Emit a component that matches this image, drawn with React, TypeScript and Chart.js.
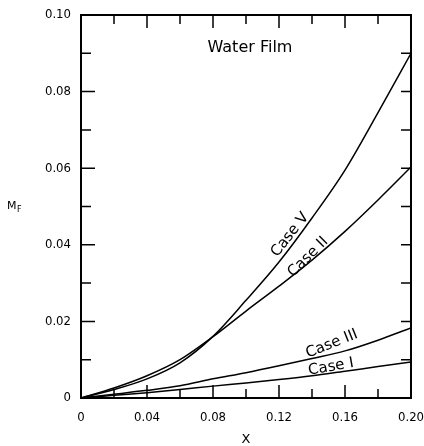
import React, { useEffect, useRef } from "react";
import { Chart, registerables } from "chart.js";

Chart.register(...registerables);

const xValues = [0, 0.02, 0.04, 0.06, 0.08, 0.1, 0.12, 0.14, 0.16, 0.18, 0.2];
const caseI = [0, 0.0007, 0.0014, 0.0022, 0.0031, 0.0039, 0.0048, 0.0058, 0.007, 0.0082, 0.0094];
const caseII = [0, 0.0026, 0.0058, 0.01, 0.016, 0.0227, 0.0292, 0.036, 0.0435, 0.0517, 0.0603];
const caseIII = [0, 0.001, 0.002, 0.0032, 0.005, 0.0066, 0.0084, 0.0103, 0.0123, 0.0151, 0.0183];
const caseV = [0, 0.0022, 0.005, 0.0092, 0.0161, 0.0255, 0.0355, 0.047, 0.0595, 0.0745, 0.09];

const seriesNames = ["Case I", "Case II", "Case III", "Case V"];
const seriesValues = [caseI, caseII, caseIII, caseV];

const xTickLabels = ["0", "0.04", "0.08", "0.12", "0.16", "0.20"];
const yTickLabels = ["0", "0.02", "0.04", "0.06", "0.08", "0.10"];

// curve label annotations: [text, x, y, angleDeg]
const curveLabels: [string, number, number, number][] = [
  ["Case V", 0.1267, 0.0426, -52],
  ["Case II", 0.1376, 0.0368, -45],
  ["Case III", 0.152, 0.0141, -22],
  ["Case I", 0.1515, 0.0081, -10],
];
const chartTitle = "Water Film";
const titlePos = [0.1024, 0.0914];

const tickFont = "'DejaVu Sans Condensed', 'Liberation Sans Narrow', 'DejaVu Sans', sans-serif";

const fmt = (v: number) => {
  const r = Math.round(v * 100) / 100;
  return r;
};

const overlay = {
  id: "overlay",
  afterDraw(chart: any) {
    const { ctx, chartArea: a, scales } = chart;
    const xs = scales.x;
    const ys = scales.y;
    ctx.save();
    ctx.strokeStyle = "#000";
    ctx.lineWidth = 2;
    ctx.strokeRect(a.left, a.top, a.right - a.left, a.bottom - a.top);
    ctx.lineWidth = 1.5;
    // x ticks (top & bottom)
    for (let i = 1; i < 10; i++) {
      const v = i * 0.02;
      const px = xs.getPixelForValue(v);
      const major = i % 2 === 0;
      const len = major ? 13 : 9;
      ctx.beginPath();
      ctx.moveTo(px, a.bottom);
      ctx.lineTo(px, a.bottom - len);
      ctx.moveTo(px, a.top);
      ctx.lineTo(px, a.top + len);
      ctx.stroke();
    }
    // y ticks (left & right)
    for (let i = 1; i < 10; i++) {
      const v = i * 0.01;
      const py = ys.getPixelForValue(v);
      const major = i % 2 === 0;
      const len = major ? 14 : 10;
      ctx.beginPath();
      ctx.moveTo(a.left, py);
      ctx.lineTo(a.left + len, py);
      ctx.moveTo(a.right, py);
      ctx.lineTo(a.right - 10, py);
      ctx.stroke();
    }
    // title
    ctx.fillStyle = "#000";
    ctx.textAlign = "center";
    ctx.textBaseline = "middle";
    ctx.font = "16px 'DejaVu Sans', sans-serif";
    ctx.fillText(chartTitle, xs.getPixelForValue(titlePos[0]), ys.getPixelForValue(titlePos[1]));
    // curve labels
    ctx.font = "15px 'DejaVu Sans', sans-serif";
    for (const [t, x, y, ang] of curveLabels) {
      ctx.save();
      ctx.translate(xs.getPixelForValue(x), ys.getPixelForValue(y));
      ctx.rotate((ang * Math.PI) / 180);
      ctx.fillText(t, 0, 0);
      ctx.restore();
    }
    // axis titles
    ctx.font = "13px 'DejaVu Sans', sans-serif";
    ctx.fillText("X", (a.left + a.right) / 2 + 0, 440);
    ctx.font = "11px 'DejaVu Sans', sans-serif";
    ctx.textAlign = "left";
    ctx.fillText("M", 7, (a.top + a.bottom) / 2);
    ctx.font = "8px 'DejaVu Sans', sans-serif";
    ctx.fillText("F", 17, (a.top + a.bottom) / 2 + 3);
    ctx.restore();
  },
};

export default function App() {
  const ref = useRef<HTMLCanvasElement | null>(null);
  useEffect(() => {
    if (!ref.current) return;
    const chart = new Chart(ref.current, {
      type: "line",
      data: {
        datasets: seriesNames.map((n, si) => ({
          label: n,
          data: xValues.map((x, i) => ({ x, y: seriesValues[si][i] })),
          borderColor: "#000",
          borderWidth: 1.5,
          pointRadius: 0,
          fill: false,
          cubicInterpolationMode: "monotone" as const,
        })),
      },
      options: {
        animation: false,
        responsive: false,
        devicePixelRatio: 1,
        layout: { padding: { left: 0, top: 15, right: 13, bottom: 0 } },
        plugins: { legend: { display: false }, tooltip: { enabled: false } },
        scales: {
          x: {
            type: "linear",
            min: 0,
            max: 0.2,
            grid: { display: false },
            border: { display: false },
            ticks: {
              stepSize: 0.04,
              padding: 4,
              color: "#000",
              font: { family: tickFont, size: 13 },
              maxRotation: 0,
              autoSkip: false,
              callback: (v: any) => {
                const idx = Math.round(fmt(v) / 0.04);
                return xTickLabels[idx] ?? "";
              },
            },
            afterFit: (s: any) => {
              s.height = 48;
              s.paddingLeft = 0;
              s.paddingRight = 0;
            },
          },
          y: {
            type: "linear",
            min: 0,
            max: 0.1,
            grid: { display: false },
            border: { display: false },
            ticks: {
              stepSize: 0.02,
              padding: 2,
              color: "#000",
              font: { family: tickFont, size: 13 },
              autoSkip: false,
              callback: (v: any) => {
                const idx = Math.round(fmt(v) / 0.02);
                return yTickLabels[idx] ?? "";
              },
            },
            afterFit: (s: any) => {
              s.width = 81;
              s.paddingTop = 0;
              s.paddingBottom = 0;
            },
          },
        },
      },
      plugins: [overlay],
    });
    return () => chart.destroy();
  }, []);
  return (
    <div style={{ position: "fixed", left: 0, top: 0, width: 424, height: 446, background: "#fff" }}>
      <canvas ref={ref} width={424} height={446} />
    </div>
  );
}
